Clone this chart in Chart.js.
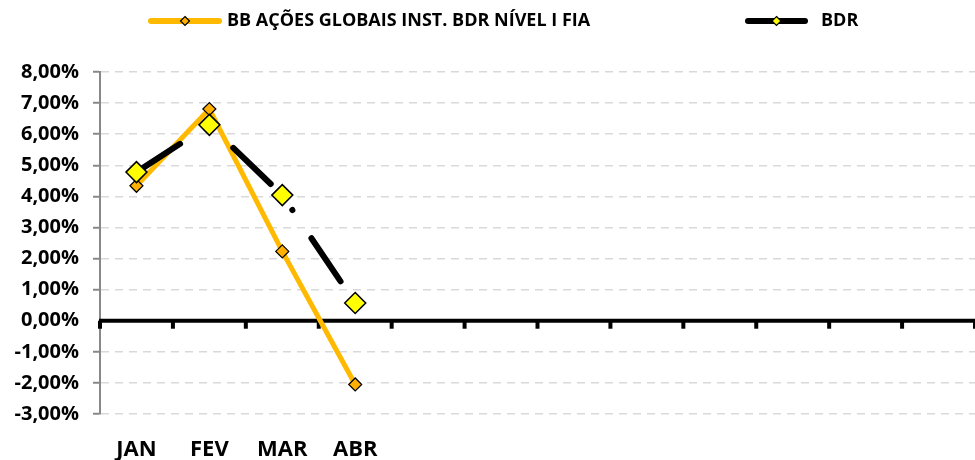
<!DOCTYPE html>
<html>
<head>
<meta charset="utf-8">
<script src="https://cdn.jsdelivr.net/npm/chart.js@4.4.0/dist/chart.umd.min.js"></script>
<style>
  html, body { margin: 0; padding: 0; background: #fff; }
  #wrap { width: 975px; height: 460px; }
</style>
</head>
<body>
<div id="wrap"><canvas id="myChart" width="975" height="460"></canvas></div>
<script>
// Monthly returns (%), only Jan-Apr filled so far
const months = ["JAN", "FEV", "MAR", "ABR", "", "", "", "", "", "", "", ""];
const fundName = "BB AÇÕES GLOBAIS INST. BDR NÍVEL I FIA";
const fundReturns = [4.34, 6.81, 2.23, -2.05];
const benchName = "BDR";
const benchReturns = [4.78, 6.30, 4.04, 0.57];
const yMin = -3;
const yMax = 8;

const FONT = "'Open Sans', 'DejaVu Sans', sans-serif";
const GOLD = "#FFBA00";

// black zero line with small tick marks between months
const zeroAxis = {
    id: "zeroAxis",
    beforeDatasetsDraw(chart) {
        const { ctx, chartArea, scales } = chart;
        const y0 = scales.y.getPixelForValue(0);
        ctx.save();
        ctx.strokeStyle = "#000";
        ctx.lineWidth = 4;
        ctx.beginPath();
        ctx.moveTo(chartArea.left - 1, y0);
        ctx.lineTo(chartArea.right, y0);
        ctx.stroke();
        for (let i = 0; i <= months.length; i++) {
            const x = scales.x.getPixelForValue(i - 0.5);
            ctx.beginPath();
            ctx.moveTo(x, y0);
            ctx.lineTo(x, y0 + 8);
            ctx.stroke();
        }
        ctx.restore();
    }
};

// legend: line sample with its marker, then the name
const lineLegend = {
    id: "lineLegend",
    afterDraw(chart) {
        const ctx = chart.ctx;
        const items = [
            { x: 148, w: 74, tx: 227, text: fundName, ds: chart.data.datasets[0] },
            { x: 745, w: 63, tx: 821, text: benchName, ds: chart.data.datasets[1] }
        ];
        const y = 21;
        ctx.save();
        items.forEach(it => {
            ctx.strokeStyle = it.ds.borderColor;
            ctx.lineWidth = 6;
            ctx.lineCap = "round";
            ctx.beginPath();
            ctx.moveTo(it.x + 3, y);
            ctx.lineTo(it.x + it.w - 3, y);
            ctx.stroke();
            const cx = it.x + it.w / 2;
            const r = 4.5;
            ctx.fillStyle = it.ds.pointBackgroundColor;
            ctx.strokeStyle = "#000";
            ctx.lineWidth = 1.2;
            ctx.beginPath();
            ctx.moveTo(cx, y - r);
            ctx.lineTo(cx + r, y);
            ctx.lineTo(cx, y + r);
            ctx.lineTo(cx - r, y);
            ctx.closePath();
            ctx.fill();
            ctx.stroke();
            ctx.fillStyle = "#000";
            ctx.font = "bold 18px " + FONT;
            ctx.textBaseline = "middle";
            ctx.textAlign = "left";
            ctx.fillText(it.text, it.tx, y);
        });
        ctx.restore();
    }
};

const ctx = document.getElementById("myChart").getContext("2d");
new Chart(ctx, {
    type: "line",
    data: {
        labels: months,
        datasets: [
            {
                label: fundName,
                data: fundReturns,
                order: 1,
                borderColor: GOLD,
                borderWidth: 5,
                tension: 0,
                pointStyle: "rectRot",
                pointRadius: 6.5,
                pointBackgroundColor: "#FFB000",
                pointBorderColor: "#000",
                pointBorderWidth: 1.2
            },
            {
                label: benchName,
                data: benchReturns,
                order: 0,
                borderColor: "#000",
                borderWidth: 6,
                borderDash: [52, 34, 0.1, 34],
                borderCapStyle: "round",
                tension: 0,
                pointStyle: "rectRot",
                pointRadius: 10.5,
                pointBackgroundColor: "#FFFF00",
                pointBorderColor: "#000",
                pointBorderWidth: 1.5
            }
        ]
    },
    options: {
        responsive: false,
        animation: false,
        devicePixelRatio: 1,
        layout: {
            autoPadding: false,
            padding: { top: 72, right: 0, bottom: 0, left: 0 }
        },
        plugins: {
            legend: { display: false },
            tooltip: { enabled: false }
        },
        scales: {
            x: {
                offset: true,
                grid: { display: false, drawTicks: false },
                border: { display: false },
                ticks: {
                    autoSkip: false,
                    maxRotation: 0,
                    padding: 23,
                    color: "#000",
                    font: { family: FONT, size: 22, weight: "bold" }
                },
                afterFit: s => { s.height = 46; }
            },
            y: {
                min: yMin,
                max: yMax,
                ticks: {
                    stepSize: 1,
                    padding: 14,
                    color: "#000",
                    font: { family: FONT, size: 20, weight: "bold" },
                    callback: v => v.toFixed(2).replace(".", ",") + "%"
                },
                grid: {
                    color: c => c.tick && c.tick.value === 0 ? "rgba(0,0,0,0)" : "#D9D9D9",
                    lineWidth: 1.5,
                    tickLength: 7,
                    tickWidth: 2,
                    tickColor: c => c.tick && c.tick.value === 0 ? "rgba(0,0,0,0)" : "#888",
                    tickBorderDash: []
                },
                border: { color: "#888", width: 2, dash: [8, 6] },
                afterFit: s => { s.width = 100; }
            }
        }
    },
    plugins: [zeroAxis, lineLegend]
});
</script>
</body>
</html>
